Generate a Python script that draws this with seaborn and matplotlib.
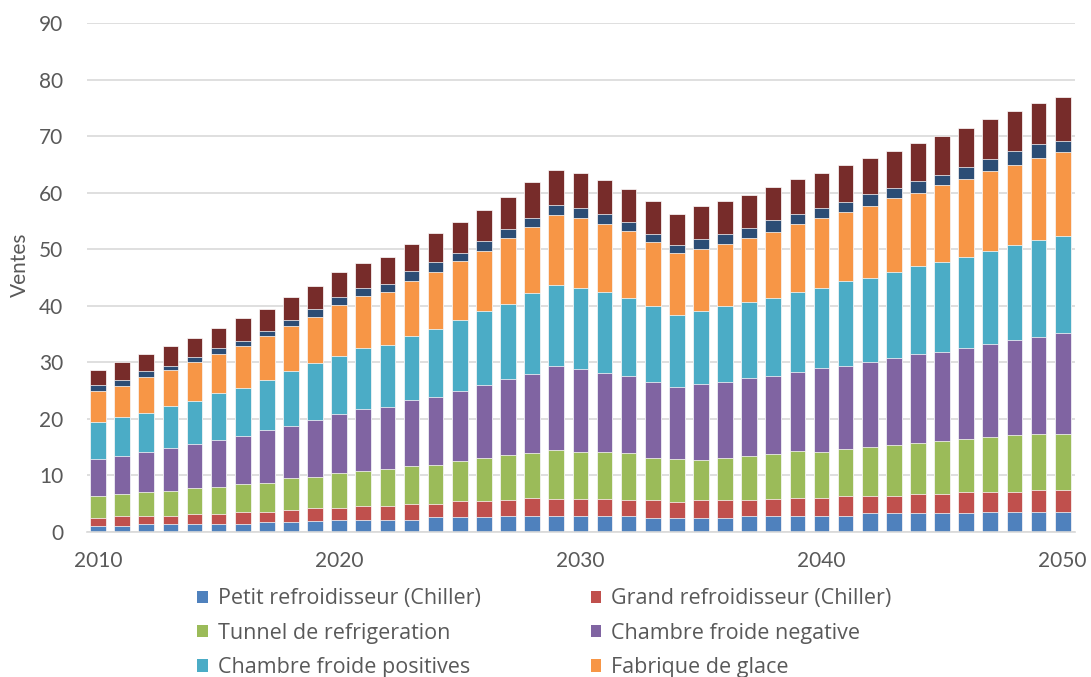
import numpy as np
import matplotlib
matplotlib.use("Agg")
import matplotlib.pyplot as plt
from matplotlib.patches import Patch
import seaborn as sns

# Years on the horizontal axis
years = list(range(2010, 2051))

# Annual sales per equipment type (stacked from bottom to top)
petit_refroidisseur = [1.1, 1.1, 1.4, 1.4, 1.4, 1.4, 1.4, 1.8, 1.8, 1.9,
                       2.2, 2.2, 2.2, 2.2, 2.6, 2.6, 2.6, 2.9, 2.9, 2.8,
                       2.8, 2.8, 2.8, 2.5, 2.5, 2.5, 2.5, 2.8, 2.8, 2.9,
                       2.9, 2.9, 3.3, 3.3, 3.3, 3.3, 3.3, 3.6, 3.6, 3.6, 3.6]
grand_refroidisseur = [1.4, 1.7, 1.4, 1.4, 1.7, 1.7, 2.1, 1.7, 2.1, 2.3,
                       2.1, 2.4, 2.4, 2.8, 2.4, 2.8, 2.8, 2.8, 3.1, 3.1,
                       3.1, 3.1, 2.8, 3.1, 2.8, 3.1, 3.1, 2.8, 3.1, 3.1,
                       3.1, 3.5, 3.1, 3.1, 3.5, 3.5, 3.8, 3.5, 3.5, 3.8, 3.8]
tunnel_refrigeration = [3.9, 3.9, 4.2, 4.5, 4.6, 4.9, 4.9, 5.2, 5.6, 5.6,
                        6.2, 6.2, 6.5, 6.6, 6.9, 7.2, 7.6, 7.9, 7.9, 8.6,
                        8.3, 8.3, 8.3, 7.5, 7.6, 7.2, 7.5, 7.9, 7.9, 8.3,
                        8.2, 8.3, 8.6, 9.0, 8.9, 9.3, 9.3, 9.7, 10.0, 9.9, 9.9]
chambre_negative = [6.5, 6.8, 7.2, 7.6, 7.8, 8.2, 8.5, 9.3, 9.3, 10.0,
                    10.4, 11.0, 11.0, 11.7, 12.0, 12.4, 13.0, 13.4, 14.1, 14.8,
                    14.7, 14.0, 13.7, 13.4, 12.7, 13.4, 13.4, 13.7, 13.7, 14.0,
                    14.8, 14.7, 15.1, 15.4, 15.8, 15.8, 16.2, 16.4, 16.8, 17.2, 17.9]
chambre_positive = [6.6, 6.9, 6.9, 7.3, 7.6, 8.3, 8.6, 8.9, 9.6, 10.0,
                    10.3, 10.7, 11.0, 11.4, 12.0, 12.4, 13.1, 13.4, 14.2, 14.4,
                    14.2, 14.2, 13.8, 13.5, 12.7, 12.8, 13.5, 13.5, 13.8, 14.2,
                    14.2, 14.9, 14.8, 15.2, 15.5, 15.8, 16.1, 16.5, 16.9, 17.2, 17.2]
fabrique_glace = [5.5, 5.5, 6.3, 6.5, 7.0, 6.9, 7.3, 7.7, 8.0, 8.2,
                  8.9, 9.2, 9.3, 9.7, 10.1, 10.6, 10.6, 11.5, 11.7, 12.4,
                  12.4, 12.0, 11.8, 11.3, 11.1, 11.1, 11.0, 11.3, 11.8, 12.0,
                  12.4, 12.3, 12.8, 13.0, 13.0, 13.7, 13.8, 14.1, 14.1, 14.4, 14.8]
series7 = [1.0, 1.0, 1.0, 0.7, 0.8, 1.1, 1.0, 1.0, 1.1, 1.4,
           1.4, 1.4, 1.4, 1.7, 1.7, 1.4, 1.8, 1.7, 1.7, 1.8,
           1.8, 1.8, 1.7, 1.4, 1.4, 1.7, 1.7, 1.7, 2.0, 1.8,
           1.7, 1.7, 2.0, 1.8, 2.1, 1.8, 2.0, 2.1, 2.4, 2.5, 2.0]
series8 = [2.7, 3.1, 3.1, 3.5, 3.4, 3.5, 4.0, 3.8, 4.1, 4.1,
           4.4, 4.5, 4.8, 4.8, 5.2, 5.5, 5.5, 5.7, 6.2, 6.1,
           6.1, 6.1, 5.8, 5.9, 5.5, 5.9, 5.9, 5.9, 5.9, 6.2,
           6.2, 6.6, 6.5, 6.6, 6.6, 6.9, 6.9, 7.2, 7.2, 7.2, 7.7]

legend_labels = ["Petit refroidisseur (Chiller)", "Grand refroidisseur (Chiller)",
                 "Tunnel de refrigeration", "Chambre froide negative",
                 "Chambre froide positives", "Fabrique de glace"]

layers = [petit_refroidisseur, grand_refroidisseur, tunnel_refrigeration,
          chambre_negative, chambre_positive, fabrique_glace, series7, series8]
colors = ["#4F81BD", "#C0504D", "#9BBB59", "#8064A2",
          "#4BACC6", "#F79646", "#2C4D75", "#772C2A"]

sns.set_theme(style="white")
plt.rcParams["font.family"] = ["Lato", "DejaVu Sans"]
text_color = "#595959"
grid_color = "#d9d9d9"

fig = plt.figure(figsize=(10.91, 6.77), dpi=100)
ax = fig.add_axes([0.0797, 0.2142, 0.9056, 0.7518])

# Stacked bars: draw cumulative totals from the top layer down
tops = np.cumsum(np.array(layers), axis=0)
for i in reversed(range(len(layers))):
    sns.barplot(x=years, y=tops[i], native_scale=True, color=colors[i],
                saturation=1, width=0.65, edgecolor="white", linewidth=0.5,
                errorbar=None, ax=ax, zorder=2)

ax.set_xlim(2009.54, 2050.51)
ax.set_ylim(0, 90)
ax.set_xticks(range(2010, 2051, 10))
ax.set_xticklabels([str(y) for y in range(2010, 2051, 10)])
ax.set_yticks(range(0, 91, 10))

ax.yaxis.grid(True, color=grid_color, linewidth=1.2, zorder=0)
ax.xaxis.grid(False)
ax.set_axisbelow(True)
for side in ("left", "top", "right"):
    ax.spines[side].set_visible(False)
ax.spines["bottom"].set_color(grid_color)
ax.spines["bottom"].set_linewidth(1.2)

ax.tick_params(axis="both", length=0, labelsize=15, labelcolor=text_color)
ax.tick_params(axis="x", pad=14)
ax.tick_params(axis="y", pad=17)

ax.set_xlabel("")
ax.set_ylabel("Ventes", fontsize=15, color=text_color)
ax.yaxis.set_label_coords(-0.058, 0.525)

# Legend in two columns, filled row by row
order = [0, 2, 4, 1, 3, 5]
handles = [Patch(facecolor=colors[k], edgecolor="none") for k in order]
labels = [legend_labels[k] for k in order]
leg = fig.legend(handles, labels, ncol=2, loc="upper left",
                 bbox_to_anchor=(0.181, 0.131), frameon=False,
                 prop={"family": ["Open Sans", "DejaVu Sans"], "size": 15.5},
                 handlelength=0.5, handleheight=0.5, handletextpad=0.45,
                 columnspacing=5.1, labelspacing=0.62, borderpad=0,
                 borderaxespad=0)
for t in leg.get_texts():
    t.set_color(text_color)

fig.savefig("out.png", dpi=100)
